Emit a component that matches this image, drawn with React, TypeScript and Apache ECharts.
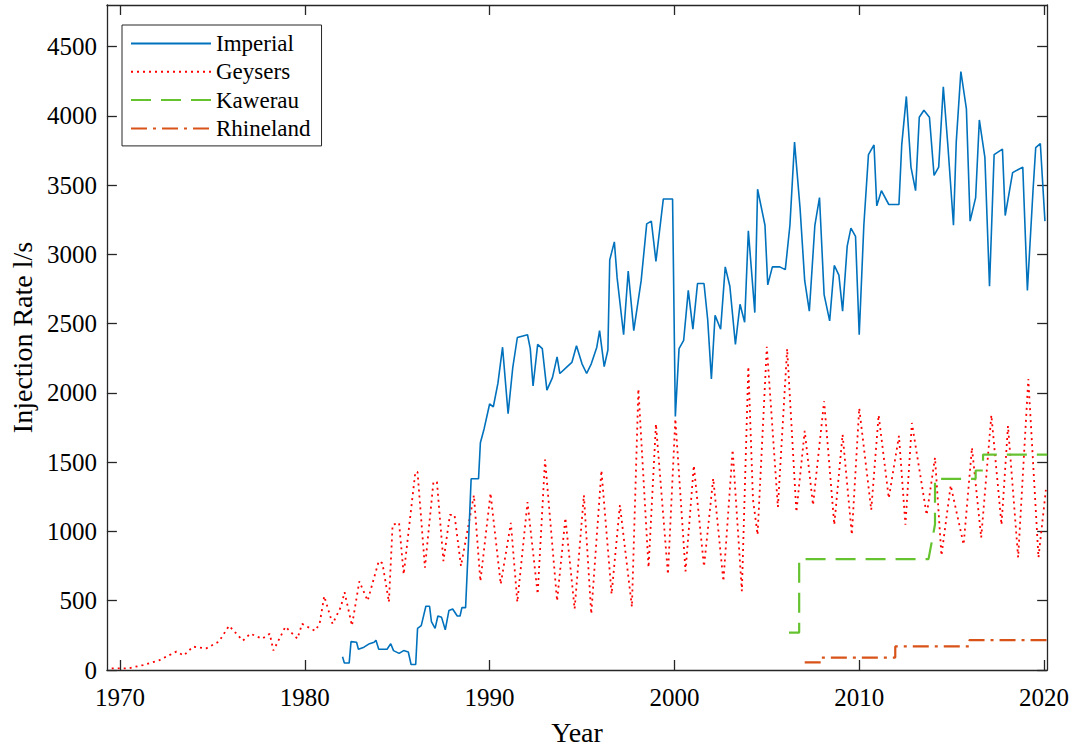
import React, { useEffect, useRef } from "react";
import * as echarts from "echarts";

const xTicks = [1970, 1980, 1990, 2000, 2010, 2020];
const yTicks = [0, 500, 1000, 1500, 2000, 2500, 3000, 3500, 4000, 4500];

const seriesNames = ["Imperial", "Geysers", "Kawerau", "Rhineland"];

const imperial: [number, number][] = [
  [1982.04, 96], [1982.14, 50], [1982.4, 50], [1982.5, 205], [1982.8, 200], [1982.9, 150],
  [1983.2, 165], [1983.5, 190], [1983.75, 200], [1983.85, 215], [1984.0, 150], [1984.45, 150],
  [1984.65, 190], [1984.8, 140], [1985.1, 120], [1985.35, 140], [1985.6, 130], [1985.75, 40],
  [1986.0, 40], [1986.1, 300], [1986.3, 320], [1986.55, 460], [1986.75, 460], [1986.85, 350],
  [1987.05, 300], [1987.2, 390], [1987.4, 380], [1987.6, 290], [1987.8, 430], [1988.0, 440],
  [1988.25, 390], [1988.4, 390], [1988.5, 450], [1988.7, 450], [1988.85, 900], [1989.0, 1380],
  [1989.4, 1380], [1989.5, 1640], [1989.7, 1740], [1990.0, 1920], [1990.2, 1900], [1990.45, 2070],
  [1990.7, 2330], [1991.0, 1850], [1991.25, 2180], [1991.5, 2400], [1992.05, 2420], [1992.2, 2320],
  [1992.35, 2050], [1992.6, 2350], [1992.85, 2320], [1993.1, 2020], [1993.4, 2110], [1993.65, 2260],
  [1993.8, 2140], [1994.2, 2190], [1994.45, 2220], [1994.7, 2340], [1995.0, 2210], [1995.25, 2140],
  [1995.5, 2210], [1995.8, 2330], [1995.95, 2450], [1996.2, 2190], [1996.4, 2310], [1996.5, 2960],
  [1996.75, 3090], [1996.9, 2830], [1997.25, 2420], [1997.5, 2880], [1997.8, 2450], [1998.2, 2810],
  [1998.5, 3220], [1998.75, 3240], [1999.0, 2950], [1999.4, 3400], [1999.9, 3400], [2000.05, 1830],
  [2000.25, 2320], [2000.5, 2380], [2000.75, 2740], [2001.0, 2460], [2001.25, 2790], [2001.6, 2790],
  [2001.8, 2530], [2002.0, 2100], [2002.2, 2560], [2002.5, 2460], [2002.75, 2910], [2003.0, 2770],
  [2003.3, 2350], [2003.55, 2640], [2003.8, 2510], [2004.0, 3170], [2004.35, 2580], [2004.5, 3470],
  [2004.9, 3210], [2005.05, 2780], [2005.3, 2910], [2005.7, 2910], [2006.0, 2890], [2006.25, 3210],
  [2006.5, 3810], [2006.8, 3330], [2007.05, 2810], [2007.3, 2590], [2007.6, 3210], [2007.85, 3410],
  [2008.1, 2710], [2008.4, 2520], [2008.65, 2920], [2008.9, 2850], [2009.1, 2590], [2009.35, 3060],
  [2009.55, 3190], [2009.8, 3130], [2010.0, 2420], [2010.25, 3210], [2010.5, 3720], [2010.8, 3790],
  [2010.95, 3350], [2011.2, 3460], [2011.6, 3360], [2012.15, 3360], [2012.3, 3790], [2012.55, 4140],
  [2012.8, 3630], [2013.05, 3460], [2013.25, 3990], [2013.5, 4040], [2013.8, 3990], [2014.05, 3570],
  [2014.3, 3630], [2014.55, 4210], [2014.8, 3780], [2015.1, 3210], [2015.25, 3810], [2015.5, 4320],
  [2015.8, 4050], [2016.0, 3240], [2016.3, 3410], [2016.5, 3970], [2016.8, 3700], [2017.05, 2770],
  [2017.3, 3720], [2017.75, 3760], [2017.9, 3280], [2018.3, 3590], [2018.85, 3630], [2019.1, 2740],
  [2019.4, 3450], [2019.55, 3770], [2019.8, 3800], [2020.05, 3240],
];

const geysers: [number, number][] = [
  [1969.55, 12], [1970.45, 12], [1971.25, 36], [1972.1, 69], [1973.05, 133], [1973.45, 105],
  [1973.95, 169], [1974.65, 155], [1975.35, 205], [1975.9, 319], [1976.65, 212], [1977.05, 262],
  [1977.7, 226], [1978.1, 262], [1978.3, 141], [1978.95, 312], [1979.6, 226], [1979.85, 333],
  [1980.55, 283], [1980.8, 333], [1981.05, 533], [1981.5, 333], [1981.95, 455], [1982.15, 562],
  [1982.55, 320], [1982.95, 640], [1983.4, 500], [1984.0, 786], [1984.2, 770], [1984.55, 490],
  [1984.75, 1048], [1985.1, 1062], [1985.35, 690], [1985.98, 1429], [1986.1, 1429], [1986.5, 738],
  [1986.96, 1357], [1987.15, 1357], [1987.5, 786], [1987.85, 1119], [1988.1, 1119], [1988.45, 750],
  [1989.15, 1262], [1989.5, 640], [1990.05, 1276], [1990.6, 619], [1991.15, 1062], [1991.5, 490],
  [1992.05, 1212], [1992.6, 548], [1993.0, 1519], [1993.65, 498], [1994.1, 1098], [1994.6, 441],
  [1995.1, 1262], [1995.5, 405], [1996.05, 1441], [1996.6, 548], [1997.05, 1190], [1997.7, 455],
  [1998.05, 2028], [1998.6, 740], [1999.0, 1776], [1999.65, 690], [2000.05, 1812], [2000.6, 712],
  [2001.05, 1476], [2001.6, 747], [2002.1, 1383], [2002.65, 640], [2003.15, 1590], [2003.65, 569],
  [2004.0, 2190], [2004.25, 1233], [2004.5, 976], [2005.0, 2333], [2005.6, 1176], [2006.1, 2319],
  [2006.6, 1140], [2007.05, 1726], [2007.5, 1190], [2008.1, 1940], [2008.65, 1048], [2009.1, 1700],
  [2009.6, 976], [2010.0, 1890], [2010.65, 1155], [2011.05, 1840], [2011.6, 1240], [2012.15, 1690],
  [2012.5, 1048], [2012.85, 1783], [2013.65, 1119], [2014.1, 1533], [2014.45, 826], [2014.95, 1333],
  [2015.65, 905], [2016.1, 1605], [2016.6, 955], [2017.15, 1840], [2017.7, 1048], [2018.05, 1762],
  [2018.6, 812], [2019.15, 2100], [2019.7, 812], [2020.1, 1300],
];

const kawerau: [number, number][] = [
  [2006.2, 270], [2006.75, 270], [2006.75, 800], [2013.75, 800], [2014.1, 1050], [2014.1, 1380],
  [2016.3, 1380], [2016.3, 1440], [2016.7, 1440], [2016.7, 1555], [2020.17, 1555],
];

const rhineland: [number, number][] = [
  [2007.05, 55], [2007.95, 55], [2007.95, 90], [2011.95, 90], [2011.95, 170], [2015.95, 170],
  [2015.95, 215], [2020.17, 215],
];

const FONT = "Liberation Serif";
const AXIS_COLOR = "#262626";
const plain = (v: number) => String(v);

export default function App() {
  const ref = useRef<HTMLDivElement>(null);
  useEffect(() => {
    if (!ref.current) return;
    const chart = echarts.init(ref.current, undefined, { renderer: "svg" });
    const axisCommon = {
      axisLine: { show: true, onZero: false, lineStyle: { color: AXIS_COLOR, width: 1.3 } },
      splitLine: { show: false },
    };
    const tick = (vals: number[]) => ({
      show: true, inside: true, length: 10, customValues: vals,
      lineStyle: { color: AXIS_COLOR, width: 1.3 },
    });
    chart.setOption({
      animation: false,
      backgroundColor: "#ffffff",
      textStyle: { fontFamily: FONT },
      grid: { left: 100, right: 22, top: 5, bottom: 74, containLabel: false },
      legend: {
        orient: "vertical",
        left: 122,
        top: 25,
        data: seriesNames,
        itemWidth: 80,
        itemHeight: 14,
        itemGap: 5.3,
        padding: [7, 11, 6, 8],
        backgroundColor: "#ffffff",
        borderColor: AXIS_COLOR,
        borderWidth: 1,
        borderRadius: 0,
        itemStyle: { opacity: 0 },
        textStyle: { fontFamily: FONT, fontSize: 23, lineHeight: 23, color: "#000000" },
      },
      xAxis: [
        {
          type: "value",
          min: 1969.29,
          max: 2020.17,
          position: "bottom",
          name: "Year",
          nameLocation: "middle",
          nameGap: 48,
          nameTextStyle: { fontFamily: FONT, fontSize: 28, color: "#000" },
          ...axisCommon,
          axisTick: tick(xTicks),
          axisLabel: { show: true, customValues: xTicks, formatter: plain, margin: 15, fontFamily: FONT, fontSize: 25, color: "#000" },
        },
        {
          type: "value",
          min: 1969.29,
          max: 2020.17,
          position: "top",
          ...axisCommon,
          axisTick: tick(xTicks),
          axisLabel: { show: false },
        },
      ],
      yAxis: [
        {
          type: "value",
          min: 0,
          max: 4800,
          position: "left",
          name: "Injection Rate l/s",
          nameLocation: "middle",
          nameGap: 70,
          nameRotate: 90,
          nameTextStyle: { fontFamily: FONT, fontSize: 28, color: "#000" },
          ...axisCommon,
          axisTick: tick(yTicks),
          axisLabel: { show: true, customValues: yTicks, formatter: plain, margin: 10, fontFamily: FONT, fontSize: 25, color: "#000" },
        },
        {
          type: "value",
          min: 0,
          max: 4800,
          position: "right",
          ...axisCommon,
          axisTick: tick(yTicks),
          axisLabel: { show: false },
        },
      ],
      series: [
        {
          name: "Imperial",
          type: "line",
          data: imperial,
          symbol: "none",
          lineStyle: { color: "#0072BD", width: 1.6, type: "solid" },
          itemStyle: { color: "#0072BD" },
          z: 4,
        },
        {
          name: "Geysers",
          type: "line",
          data: geysers,
          symbol: "none",
          lineStyle: { color: "#FF0000", width: 1.8, type: [2, 4] },
          itemStyle: { color: "#FF0000" },
          z: 3,
        },
        {
          name: "Kawerau",
          type: "line",
          data: kawerau,
          symbol: "none",
          lineStyle: { color: "#66C330", width: 2.2, type: [20, 10] },
          itemStyle: { color: "#66C330" },
          z: 5,
        },
        {
          name: "Rhineland",
          type: "line",
          data: rhineland,
          symbol: "none",
          lineStyle: { color: "#D95319", width: 2.2, type: [16, 6, 3, 6] },
          itemStyle: { color: "#D95319" },
          z: 5,
        },
      ],
    });
    return () => chart.dispose();
  }, []);
  return (
    <div
      ref={ref}
      style={{ position: "fixed", left: 0, top: 0, width: 1072, height: 751, background: "#fff" }}
    />
  );
}
